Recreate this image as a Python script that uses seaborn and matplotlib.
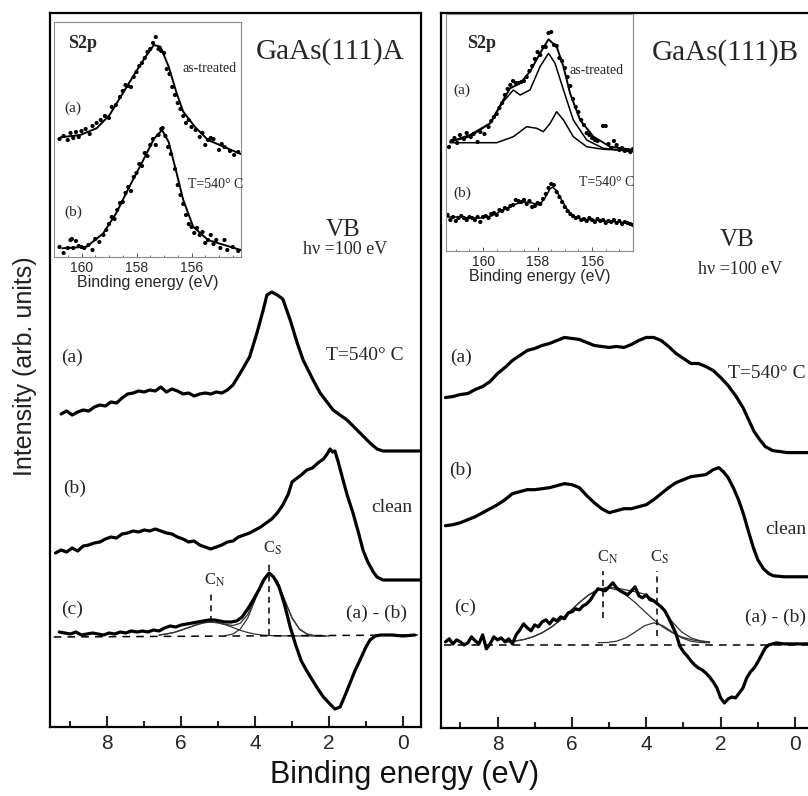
import numpy as np
import pandas as pd
import matplotlib
matplotlib.use("Agg")
import matplotlib.pyplot as plt
import seaborn as sns

# ---- valence band, GaAs(111)A (binding energy in eV, intensity in arb. units) ----
eA_a = [9.25, 9.1, 8.95, 8.8, 8.65, 8.5, 8.35, 8.2, 8.05, 7.9, 7.75, 7.6, 7.45, 7.3, 7.15, 7.0, 6.85, 6.7, 6.55, 6.4,
        6.25, 6.1, 5.95, 5.8, 5.65, 5.5, 5.35, 5.2, 5.05, 4.9, 4.75, 4.6, 4.4, 4.15, 3.95, 3.78, 3.68, 3.55, 3.4, 3.25,
        3.05, 2.86, 2.7, 2.43, 2.24, 1.89, 1.51, 1.16, 0.89, 0.7, 0.54, 0.3, -0.45]
iA_a = [313, 316, 312, 315, 317, 316, 320, 322, 321, 325, 324, 329, 333, 334, 336, 335, 337, 336, 340, 335,
        338, 336, 333, 334, 331, 333, 334, 333, 335, 334, 337, 342, 354, 370, 394, 417, 432, 435, 432, 428,
        407, 384, 367, 347, 334, 317, 307, 294, 284, 278, 276, 276, 276]

eA_b = [9.4, 9.25, 9.1, 8.95, 8.8, 8.65, 8.5, 8.35, 8.2, 8.05, 7.9, 7.75, 7.6, 7.45, 7.3, 7.15, 7.0, 6.85, 6.7, 6.55,
        6.4, 6.25, 6.1, 5.95, 5.8, 5.65, 5.5, 5.35, 5.2, 5.05, 4.9, 4.75, 4.6, 4.45, 4.3, 4.15, 4.0, 3.85, 3.7, 3.55,
        3.4, 3.25, 3.1, 3.0, 2.9, 2.75, 2.6, 2.45, 2.3, 2.15, 2.05, 1.97, 1.9, 1.84, 1.75, 1.62, 1.5, 1.35, 1.2, 1.08,
        0.95, 0.8, 0.7, 0.54, 0.3, -0.45]
iA_b = [174, 177, 175, 179, 176, 181, 182, 184, 185, 188, 190, 189, 193, 194, 196, 195, 197, 196, 198, 196,
        194, 193, 190, 188, 185, 186, 182, 180, 178, 180, 182, 185, 186, 190, 192, 194, 197, 200, 204, 208,
        214, 222, 233, 245, 248, 252, 257, 259, 264, 268, 273, 278, 275, 276, 265, 247, 231, 214, 194, 177,
        165, 155, 150, 147, 147, 147]

eA_c = [9.3, 9.15, 9.0, 8.85, 8.7, 8.55, 8.4, 8.25, 8.1, 7.95, 7.8, 7.65, 7.5, 7.35, 7.2, 7.05, 6.9, 6.75, 6.6, 6.45,
        6.3, 6.15, 6.0, 5.85, 5.7, 5.55, 5.4, 5.25, 5.1, 4.95, 4.8, 4.65, 4.5, 4.35, 4.2, 4.05, 3.9, 3.75, 3.62, 3.5,
        3.35, 3.2, 3.05, 2.9, 2.75, 2.6, 2.45, 2.3, 2.15, 2.0, 1.84, 1.7, 1.55, 1.43, 1.3, 1.16, 1.0, 0.89, 0.75, 0.6,
        0.3, 0.0, -0.32]
iA_c = [95, 94, 93, 95, 92, 93, 94, 93, 92, 94, 93, 95, 94, 96, 95, 96, 95, 97, 96, 99,
        101, 100, 102, 103, 104, 105, 106, 107, 107, 106, 105, 105, 106, 110, 118, 127, 137, 148, 154, 150,
        140, 122, 100, 82, 66, 56, 47, 38, 30, 24, 18, 20, 33, 44, 56, 67, 80, 87, 91, 92,
        92, 91, 92]

# fitted components of (a)-(b), GaAs(111)A
eA_cn = [6.6, 6.4, 6.2, 6.0, 5.8, 5.6, 5.4, 5.2, 5.0, 4.8, 4.6, 4.4, 4.2, 4.0, 3.8, 3.4, 2.0]
iA_cn = [91.9, 92.9, 94.5, 96.7, 99.5, 102.2, 104.2, 105, 104.2, 102.2, 99.5, 96.7, 94.5, 92.9, 91.9, 91.1, 91]
eA_cs = [4.8, 4.6, 4.4, 4.2, 4.0, 3.8, 3.6, 3.4, 3.2, 3.0, 2.8, 2.6, 2.4, 2.1]
iA_cs = [91.4, 93, 98, 109, 127, 146, 154, 146, 127, 109, 98, 93, 91.4, 91]
eA_sum = [6.6, 6.2, 5.8, 5.4, 5.2, 5.0, 4.8, 4.6, 4.4, 4.2, 4.0, 3.8, 3.6, 3.4, 3.2, 3.0, 2.8, 2.6, 2.4, 2.1]
iA_sum = [91.9, 94.5, 99.5, 104.2, 105, 104.2, 102.6, 101.5, 103.7, 112.5, 128.9, 146.9, 154.1, 146.1, 127, 109, 98, 93,
          91.4, 91]

# ---- valence band, GaAs(111)B ----
eB_a = [9.4, 9.2, 9.0, 8.8, 8.6, 8.4, 8.2, 8.0, 7.8, 7.6, 7.4, 7.2, 7.0, 6.8, 6.6, 6.4, 6.2, 6.0, 5.8, 5.6,
        5.4, 5.2, 5.0, 4.8, 4.6, 4.4, 4.2, 4.0, 3.8, 3.6, 3.4, 3.2, 3.0, 2.8, 2.6, 2.4, 2.2, 2.0, 1.8, 1.6,
        1.4, 1.25, 1.1, 0.95, 0.8, 0.6, 0.4, 0.2, -0.9]
iB_a = [330, 331, 333, 334, 338, 341, 346, 354, 360, 367, 372, 377, 379, 382, 384, 387, 390, 389, 388, 385,
        382, 381, 380, 381, 380, 383, 387, 390, 390, 387, 381, 374, 369, 364, 364, 361, 357, 350, 342, 332,
        320, 308, 296, 288, 281, 277, 276, 275, 275]

eB_b = [9.4, 9.2, 9.0, 8.8, 8.6, 8.4, 8.2, 8.0, 7.8, 7.6, 7.4, 7.2, 7.0, 6.8, 6.6, 6.4, 6.2, 6.0, 5.8, 5.6,
        5.4, 5.2, 5.0, 4.8, 4.6, 4.4, 4.2, 4.0, 3.8, 3.6, 3.4, 3.2, 3.0, 2.8, 2.6, 2.4, 2.2, 2.05, 1.93, 1.8,
        1.66, 1.52, 1.39, 1.25, 1.12, 1.0, 0.85, 0.7, 0.58, 0.3, -0.9]
iB_b = [202, 203, 205, 208, 211, 215, 219, 223, 228, 234, 236, 238, 238, 239, 240, 242, 244, 243, 240, 232,
        225, 219, 215, 217, 219, 219, 221, 223, 228, 234, 240, 245, 248, 251, 252, 253, 258, 260, 256, 250,
        240, 228, 214, 196, 180, 168, 159, 154, 152, 151, 151]

eB_c = [9.4, 9.3, 9.2, 9.1, 9.0, 8.9, 8.8, 8.7, 8.6, 8.5, 8.4, 8.3, 8.2, 8.1, 8.0, 7.9, 7.8, 7.7, 7.6, 7.5,
        7.4, 7.3, 7.2, 7.1, 7.0, 6.9, 6.8, 6.7, 6.6, 6.5, 6.4, 6.3, 6.2, 6.1, 6.0, 5.9, 5.8, 5.7, 5.6, 5.5,
        5.4, 5.3, 5.2, 5.1, 5.0, 4.9, 4.8, 4.7, 4.6, 4.5, 4.4, 4.3, 4.2, 4.1, 4.0, 3.9, 3.8, 3.7, 3.6, 3.5,
        3.4, 3.3, 3.2, 3.1, 3.0, 2.9, 2.8, 2.7, 2.6, 2.5, 2.4, 2.3, 2.2, 2.1, 2.0, 1.9, 1.8, 1.7, 1.6, 1.5,
        1.4, 1.3, 1.2, 1.1, 1.0, 0.9, 0.8, 0.7, 0.6, 0.5, 0.3, 0.0, -0.9]
iB_c = [86, 89, 84, 88, 86, 83, 85, 91, 87, 84, 93, 79, 84, 91, 88, 90, 86, 89, 84, 93,
        98, 104, 100, 97, 103, 101, 106, 108, 104, 109, 107, 111, 109, 115, 116, 119, 118, 122, 124, 128,
        134, 139, 138, 137, 141, 145, 140, 137, 135, 133, 137, 141, 132, 130, 133, 128, 127, 124, 121, 117,
        110, 102, 94, 82, 76, 72, 67, 63, 60, 58, 55, 51, 46, 40, 30, 25, 29, 31, 30, 35,
        40, 50, 56, 60, 66, 73, 80, 83, 84, 85, 84, 84, 84]

eB_cn = [7.8, 7.55, 7.3, 7.05, 6.8, 6.55, 6.3, 6.05, 5.8, 5.55, 5.3, 5.05, 4.8, 4.55, 4.3, 4.05, 3.8, 3.55, 3.3, 3.05,
         2.8, 2.55, 2.3]
iB_cn = [85.8, 86.7, 88.3, 91, 95.1, 100.8, 108.1, 116.6, 125.3, 132.9, 138.1, 140, 138.1, 132.9, 125.3, 116.6, 108.1,
         100.8, 95.1, 91, 88.3, 86.7, 85.8]
eB_cs = [5.3, 5.05, 4.8, 4.55, 4.3, 4.05, 3.8, 3.55, 3.3, 3.05, 2.8, 2.55, 2.3]
iB_cs = [85.2, 85.4, 86.7, 90, 95.8, 102.1, 105, 102.1, 95.8, 90, 86.7, 85.4, 85.1]
iB_sum = [85.8, 86.7, 88.3, 91, 95.1, 100.8, 108.1, 116.6, 125.3, 132.9, 138.3, 140.4, 139.8, 137.9, 136.1, 133.7, 128.1,
          117.9, 105.9, 96, 90, 87.1, 85.9]

# peak markers (energy, line top, line bottom)
marks_A = {"CN": (5.2, 137, 105), "CS": (3.62, 167, 92)}
marks_B = {"CN": (5.16, 157, 110), "CS": (3.72, 157, 92)}

# ---- S2p insets (binding energy, intensity) ----
s2pA_a_fit = [(160.76, 119.7), (160.05, 122), (159.45, 128.7), (158.98, 142), (158.5, 163.7), (158.02, 185.3),
              (157.67, 200.3), (157.37, 212), (157.13, 210.3), (156.83, 190.3), (156.54, 163.7), (156.3, 145.3),
              (155.88, 130.3), (155.4, 117), (154.21, 103)]
s2pA_a_dots = [(160.8, 118), (160.65, 121), (160.5, 117), (160.4, 124), (160.3, 119), (160.2, 125), (160.1, 120),
               (160.0, 126), (159.85, 128), (159.7, 123), (159.6, 131), (159.45, 134), (159.3, 137), (159.15, 141),
               (159.0, 139), (158.9, 150), (158.75, 152), (158.6, 160), (158.5, 166), (158.4, 172), (158.3, 171),
               (158.2, 170), (158.1, 180), (158.0, 185), (157.9, 191), (157.8, 194), (157.7, 199), (157.6, 205),
               (157.5, 208), (157.4, 214), (157.3, 220), (157.2, 208), (157.1, 206), (157.0, 204), (156.9, 188),
               (156.8, 183), (156.7, 170), (156.6, 162), (156.5, 154), (156.4, 148), (156.3, 141), (156.2, 134),
               (156.1, 137), (156.0, 130), (155.85, 127), (155.7, 120), (155.6, 124), (155.5, 112), (155.4, 117),
               (155.3, 119), (155.2, 118), (155.0, 107), (154.9, 113), (154.8, 110), (154.6, 106), (154.45, 102),
               (154.3, 105)]
s2pA_b_fit = [(160.7, 8.7), (159.81, 10.3), (159.21, 23.7), (158.74, 43.7), (158.26, 70.3), (157.79, 95),
              (157.37, 118), (157.07, 127), (156.83, 115), (156.6, 90.3), (156.3, 57), (155.94, 30.3),
              (155.4, 17), (154.21, 7)]
s2pA_b_dots = [(160.8, 10), (160.65, 4), (160.5, 9), (160.4, 17), (160.35, 18), (160.3, 9), (160.2, 16), (160.1, 11),
               (160.0, 10), (159.9, 9), (159.75, 12), (159.6, 7), (159.5, 18), (159.35, 15), (159.2, 22),
               (159.1, 27), (159.0, 33), (158.9, 40), (158.8, 38), (158.7, 47), (158.6, 54), (158.5, 55),
               (158.4, 64), (158.3, 70), (158.2, 66), (158.1, 80), (158.0, 84), (157.9, 93), (157.8, 91),
               (157.7, 104), (157.6, 101), (157.5, 112), (157.4, 118), (157.3, 112), (157.2, 122), (157.1, 128),
               (157.05, 129), (156.95, 121), (156.85, 110), (156.75, 103), (156.6, 88), (156.5, 72), (156.4, 62),
               (156.3, 53), (156.2, 42), (156.1, 33), (156.0, 30), (155.9, 24), (155.8, 29), (155.7, 22),
               (155.6, 25), (155.5, 14), (155.4, 17), (155.3, 22), (155.2, 13), (155.1, 17), (154.95, 9),
               (154.8, 17), (154.7, 7), (154.5, 10), (154.3, 6)]

s2pB_a_env = [(161.21, 109.3), (160.48, 116), (159.74, 127.7), (159.26, 151), (159.01, 162.7), (158.64, 167.7),
              (158.28, 179.3), (157.91, 197.7), (157.6, 211.7), (157.3, 204.3), (157.05, 184.3), (156.81, 157.7),
              (156.44, 131), (155.95, 114.3), (155.34, 104.3), (154.48, 101)]
s2pB_a_big = [(161.21, 109.3), (160.48, 114.3), (159.74, 127.7), (159.26, 149.3), (158.89, 161), (158.64, 156),
              (158.28, 161), (157.91, 184.3), (157.6, 197.7), (157.36, 187.7), (157.05, 161), (156.69, 131),
              (156.2, 111), (155.59, 102.7), (154.48, 99.3)]
s2pB_a_small = [(161.21, 108.3), (159.5, 108.3), (158.89, 114.3), (158.4, 124.3), (158.03, 122.7), (157.79, 119.3),
                (157.54, 127.7), (157.3, 139.3), (157.05, 131), (156.69, 114.3), (156.2, 104.3), (155.59, 101.7),
                (154.48, 100.3)]
s2pB_a_dots = [(161.25, 104), (161.15, 110), (161.05, 113), (160.95, 108), (160.85, 116), (160.7, 112), (160.6, 118),
               (160.45, 114), (160.35, 117), (160.2, 109), (160.1, 119), (159.95, 117), (159.8, 124), (159.7, 130),
               (159.6, 134), (159.5, 137), (159.4, 143), (159.3, 148), (159.2, 156), (159.1, 162), (159.0, 166),
               (158.9, 170), (158.8, 168), (158.7, 168), (158.6, 169), (158.5, 170), (158.4, 174), (158.3, 180),
               (158.2, 185), (158.1, 192), (158.0, 199), (157.9, 196), (157.8, 204), (157.7, 204), (157.6, 218),
               (157.5, 219), (157.4, 206), (157.3, 205), (157.2, 193), (157.1, 190), (157.0, 183), (156.9, 174),
               (156.8, 165), (156.7, 152), (156.6, 144), (156.5, 139), (156.4, 131), (156.3, 126), (156.2, 118),
               (156.1, 116), (156.0, 113), (155.9, 111), (155.8, 110), (155.6, 125), (155.5, 125), (155.4, 107),
               (155.3, 103), (155.2, 110), (155.1, 106), (155.0, 101), (154.9, 103), (154.8, 100), (154.7, 101),
               (154.6, 99), (154.5, 102)]
s2pB_b_fit = [(161.3, 34), (160.9, 34), (160.5, 33), (160.1, 33), (159.7, 35), (159.4, 39), (159.1, 43), (158.8, 47),
              (158.5, 49), (158.2, 48), (157.95, 46), (157.75, 52), (157.55, 62), (157.45, 64), (157.3, 60),
              (157.1, 50), (156.9, 41), (156.7, 35), (156.4, 32), (156.0, 31), (155.5, 30), (155.0, 29), (154.5, 27)]
s2pB_b_dots = [(161.3, 36), (161.2, 31), (161.1, 34), (161.0, 30), (160.9, 33), (160.8, 35), (160.7, 33), (160.6, 31),
               (160.5, 34), (160.4, 33), (160.3, 31), (160.2, 34), (160.1, 29), (160.0, 34), (159.9, 35), (159.8, 33),
               (159.7, 37), (159.6, 38), (159.5, 36), (159.4, 41), (159.3, 40), (159.2, 43), (159.1, 42), (159.0, 45),
               (158.9, 46), (158.8, 51), (158.7, 50), (158.6, 49), (158.5, 51), (158.4, 47), (158.3, 50), (158.2, 44),
               (158.1, 45), (158.0, 48), (157.9, 47), (157.8, 52), (157.7, 57), (157.6, 63), (157.5, 67), (157.4, 66),
               (157.3, 59), (157.2, 54), (157.1, 49), (157.0, 44), (156.9, 40), (156.8, 37), (156.7, 35), (156.6, 33),
               (156.5, 34), (156.4, 31), (156.3, 32), (156.2, 30), (156.1, 33), (156.0, 31), (155.9, 29), (155.8, 32),
               (155.7, 30), (155.6, 31), (155.5, 28), (155.4, 30), (155.3, 29), (155.2, 31), (155.1, 28), (155.0, 30),
               (154.9, 27), (154.8, 29), (154.7, 28), (154.6, 27), (154.5, 26)]

main_ticks = [0, 2, 4, 6, 8]
inset_ticks = [156, 158, 160]

sns.set_style("white")
plt.rcParams["font.family"] = ["Liberation Sans", "DejaVu Sans"]
plt.rcParams["mathtext.fontset"] = "stix"
SERIF = ["Liberation Serif", "DejaVu Serif"]

W, H = 808, 796
fig = plt.figure(figsize=(W / 100, H / 100), dpi=100)


def box(x0, y0, x1, y1):
    # pixel box -> figure fraction rect
    return [x0 / W, 1 - y1 / H, (x1 - x0) / W, (y1 - y0) / H]


def ftext(x, y, s, size, ha="center", **kw):
    fig.text(x / W, 1 - y / H, s, fontsize=size, ha=ha, va="center", family=SERIF, **kw)


def line(ax, x, y, lw, color="black"):
    sns.lineplot(x=x, y=y, ax=ax, color=color, linewidth=lw, estimator=None, sort=False)


def pts(ax, data):
    d = pd.DataFrame(data, columns=["E", "I"])
    sns.scatterplot(data=d, x="E", y="I", ax=ax, color="black", s=9, edgecolor="none")


def setup_main(ax, xlim):
    ax.set_xlim(*xlim)
    ax.set_ylim(0, 714)
    ax.set_yticks([])
    ax.set_xticks(main_ticks)
    ax.set_xticks([1, 3, 5, 7, 9], minor=True)
    ax.tick_params(axis="x", which="major", direction="in", length=8, width=1.5, labelsize=15, pad=5, bottom=True)
    ax.tick_params(axis="x", which="minor", direction="in", length=4, width=1.5, bottom=True)
    for sp in ax.spines.values():
        sp.set_linewidth(1.6)
        sp.set_color("black")
    ax.set_xlabel("")
    ax.set_ylabel("")


def setup_inset(ax, xlim, ylim):
    ax.set_xlim(*xlim)
    ax.set_ylim(*ylim)
    ax.set_yticks([])
    ax.set_xticks(inset_ticks)
    ax.set_xticks(np.arange(154.5, 161.5, 0.5), minor=True)
    ax.tick_params(axis="x", which="major", direction="in", length=3, width=0.7, labelsize=10, pad=3,
                   bottom=True, color="#555555")
    ax.tick_params(axis="x", which="minor", direction="in", length=1.5, width=0.6, bottom=True, color="#555555")
    for sp in ax.spines.values():
        sp.set_linewidth(0.8)
        sp.set_color("#8c8c8c")
    ax.set_ylabel("")
    ax.set_xlabel("Binding energy (eV)", fontsize=11.5, labelpad=0)


# ---------------- left panel: GaAs(111)A ----------------
axL = fig.add_axes(box(50, 13, 421, 727))
line(axL, eA_a, iA_a, 2.3)
line(axL, eA_b, iA_b, 2.3)
line(axL, eA_cn, iA_cn, 0.9, "#333333")
line(axL, eA_cs, iA_cs, 0.9, "#333333")
line(axL, eA_sum, iA_sum, 0.9, "#333333")
line(axL, eA_c, iA_c, 2.3)
axL.plot([9.45, -0.4], [90, 92], color="black", lw=1.1, ls=(0, (5, 4)))
for e, top, bot in marks_A.values():
    axL.vlines(e, bot, top, color="black", lw=1.1, linestyles=(0, (4, 3)))
setup_main(axL, (9.55, -0.49))

# ---------------- right panel: GaAs(111)B (runs past the picture's right edge) ----------------
axR = fig.add_axes(box(441, 13, 830, 728))
line(axR, eB_a, iB_a, 2.3)
line(axR, eB_b, iB_b, 2.3)
line(axR, eB_cn, iB_cn, 0.9, "#333333")
line(axR, eB_cs, iB_cs, 0.9, "#333333")
line(axR, eB_cn, iB_sum, 0.9, "#333333")
line(axR, eB_c, iB_c, 2.3)
axR.plot([9.45, -0.9], [83, 83], color="black", lw=1.1, ls=(0, (5, 4)))
for e, top, bot in marks_B.values():
    axR.vlines(e, bot, top, color="black", lw=1.1, linestyles=(0, (4, 3)))
setup_main(axR, (9.52, -0.94))

# ---------------- insets ----------------
inL = fig.add_axes(box(54, 22, 241, 257))
pts(inL, s2pA_a_dots)
pts(inL, s2pA_b_dots)
for fit in (s2pA_a_fit, s2pA_b_fit):
    f = np.array(fit)
    line(inL, f[:, 0], f[:, 1], 1.4)
setup_inset(inL, (160.86, 154.2), (0, 235))

inR = fig.add_axes(box(446, 14, 633, 251))
pts(inR, s2pB_a_dots)
pts(inR, s2pB_b_dots)
for fit, lw in ((s2pB_a_env, 1.4), (s2pB_a_big, 1.1), (s2pB_a_small, 1.1), (s2pB_b_fit, 1.1)):
    f = np.array(fit)
    line(inR, f[:, 0], f[:, 1], lw)
setup_inset(inR, (161.36, 154.5), (0, 237))

# ---------------- text ----------------
ftext(330, 52, "GaAs(111)A", 21)
ftext(725, 53, "GaAs(111)B", 21)
ftext(343, 230, "VB", 18)
ftext(737, 240, "VB", 18)
ftext(345, 250, "h\u03bd =100 eV", 13)
ftext(740, 270, "h\u03bd =100 eV", 13)

ftext(72, 357, "(a)", 14)
ftext(75, 488, "(b)", 14)
ftext(72, 609, "(c)", 14)
ftext(365, 355, "T=540\u00b0 C", 14)
ftext(392, 507, "clean", 14)
ftext(377, 613, "(a) - (b)", 14)
ftext(215, 580, r"C$_{\rm N}$", 12)
ftext(273, 548, r"C$_{\rm S}$", 12)

ftext(461, 357, "(a)", 14)
ftext(461, 470, "(b)", 14)
ftext(465, 607, "(c)", 14)
ftext(806, 373, "T=540\u00b0 C", 14, ha="right")
ftext(806, 530, "clean", 14, ha="right")
ftext(806, 617, "(a) - (b)", 14, ha="right")
ftext(608, 557, r"C$_{\rm N}$", 12)
ftext(660, 557, r"C$_{\rm S}$", 12)

ftext(83, 43, "S2p", 13, weight="bold")
ftext(210, 68, "as-treated", 10)
ftext(73, 108, "(a)", 11)
ftext(188, 185, "T=540\u00b0 C", 10, ha="left")
ftext(73, 212, "(b)", 11)

ftext(482, 43, "S2p", 13, weight="bold")
ftext(597, 70, "as-treated", 10)
ftext(462, 90, "(a)", 11)
ftext(462, 193, "(b)", 11)
ftext(607, 183, "T=540\u00b0 C", 10)

fig.text(25 / W, 1 - 366 / H, "Intensity (arb. units)", rotation=90, fontsize=18, ha="center", va="center",
         color="#222222")
fig.text(405 / W, 1 - 775 / H, "Binding energy (eV)", fontsize=22, ha="center", va="center", color="#111111")

fig.savefig("out.png", dpi=100)
